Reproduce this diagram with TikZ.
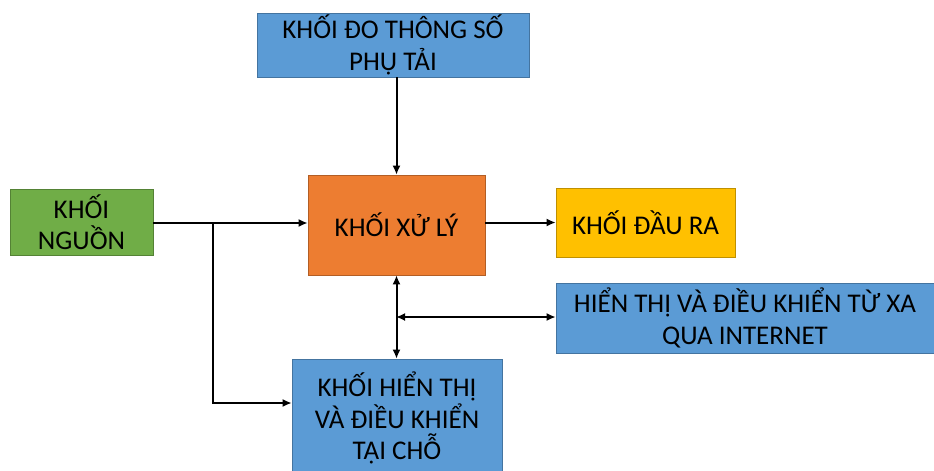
\documentclass[tikz,border=0pt]{standalone}
\usepackage{fontspec}
\setmainfont{Carlito}
\usetikzlibrary{arrows.meta}
\definecolor{cblue}{HTML}{5B9BD5}
\definecolor{corange}{HTML}{ED7D31}
\definecolor{cgreen}{HTML}{70AD47}
\definecolor{cyellow}{HTML}{FFC000}
\begin{document}
\begin{tikzpicture}[x=1pt,y=-1pt,
  blk/.style={rectangle, draw=#1!75!black, line width=0.6pt, fill=#1, align=center,
    font=\fontsize{27}{31.5}\selectfont, text=black, inner sep=0pt},
  arr/.style={line width=2pt, -{Latex[length=9pt,width=8pt]}},
  darr/.style={line width=2pt, {Latex[length=9pt,width=8pt]}-{Latex[length=9pt,width=8pt]}}]
\useasboundingbox (0,0) rectangle (934,471);
\node[blk=cblue, minimum width=272pt, minimum height=64pt] (top) at (393,45) {KHỐI ĐO THÔNG SỐ\\PHỤ TẢI};
\node[blk=corange, minimum width=177pt, minimum height=100pt] (proc) at (396.5,225) {KHỐI XỬ LÝ};
\node[blk=cgreen, minimum width=143pt, minimum height=66pt] (src) at (81.5,222) {KHỐI\\NGUỒN};
\node[blk=cyellow, minimum width=179pt, minimum height=69pt] (out) at (645.5,222.5) {KHỐI ĐẦU RA};
\node[blk=cblue, minimum width=378pt, minimum height=70pt] (inet) at (745,318) {HIỂN THỊ VÀ ĐIỀU KHIỂN TỪ XA\\QUA INTERNET};
\node[blk=cblue, minimum width=210pt, minimum height=118pt] (loc) at (397,418) {KHỐI HIỂN THỊ\\VÀ ĐIỀU KHIỂN\\TẠI CHỖ};
\coordinate (br) at (213,223);
\coordinate (mid) at (396,317);
\draw[arr] (proc.north |- top.south) -- (proc.north);
\draw[arr] (src.east |- br) -- (br -| proc.west);
\draw[arr] (br) |- ([yshift=15pt]loc.west);
\draw[arr] (proc.east |- out.west) -- (out.west);
\draw[darr] (proc.south) -- (proc.south |- loc.north);
\draw[darr] (mid) -- (mid -| inet.west);
\end{tikzpicture}
\end{document}
